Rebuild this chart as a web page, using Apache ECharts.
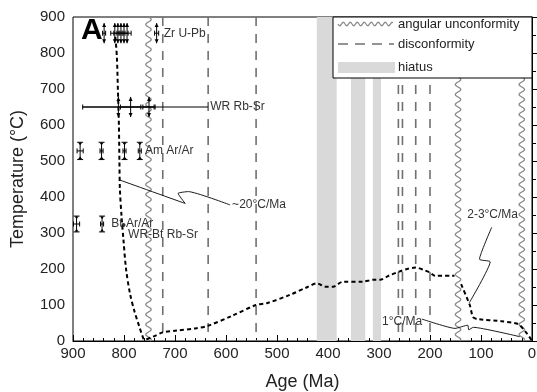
<!DOCTYPE html>
<html><head><meta charset="utf-8">
<script src="https://cdn.jsdelivr.net/npm/echarts@6/dist/echarts.min.js"></script>
<style>html,body{margin:0;padding:0;background:#fff}#c{width:537px;height:392px}</style>
</head><body><div id="c"></div>
<script>
const FONT = 'Liberation Sans, Arial, sans-serif';
// hiatus bands [older, younger] in Ma
const hiatusBands = [[422, 383], [355, 327], [312, 296]];
// disconformities (Ma)
const disconformities = [724, 635, 541, 262, 254, 228, 200];
// angular unconformities (Ma)
const angularUnconformities = [752, 145, 20];
// thermal history path [age Ma, T °C]
const historyA = [[817,845],[814,790],[812,700],[810,600],[809,500],[808,420],[805,350],[801,280],[796,200],[788,130],[779,80],[770,40],[764,15],[760,4],[743,12],[724,24],[697,29],[660,35],[636,42],[588,70],[541,100],[520,105],[475,128],[440,150],[422,160],[405,151],[390,151],[372,164],[331,165],[311,170],[298,170],[280,182],[262,192],[245,200],[228,204],[210,196],[200,190],[190,181],[152,181]];
const historyB = [[139,158],[122,100],[116,67],[108,61],[60,55],[27,47],[10,21],[0,0]];
// error-bar data [age, T, ageErr, TErr, arrowEnds(1)/caps(0)]
const zrUPb   = [[839,855,3,28,1],[818,855,8,28,1],[812,855,8,28,1],[806,855,8,28,1],[800,855,8,28,1],[794,855,8,28,1],[736,855,4,28,1]];
const wrRbSr  = [[811,650,70,28,1],[787,650,20,28,1],[751,650,12,28,1]];
const wrRbSrLine = [[881,650],[635,650]];
const amArAr  = [[886,528,6,24,0],[844,528,3,24,0],[799,528,3,24,0],[769,528,3,24,0]];
const btArAr  = [[893,325,6,22,0],[843,325,3,22,0]];
const wrBtRbSr = [[801,322]];
// rate annotation leader lines
const bolt20 = [[808,447],[680,382],[694,410],[674,415],[592,378]];
const bolt23 = [[79,316],[103,227],[82,220],[123,106]];
const bolt1  = [[216,61],[151,35],[126,44],[124,31],[115,38],[24,12]];
// text labels [age, T]
const labelPos = [[722,855],[631,650],[759,528],[825,325],[792,294],[588,378],[127,350],[294,55]];
const labelText = ['Zr U-Pb','WR Rb-Sr','Am Ar/Ar','Bt Ar/Ar','WR-Bt Rb-Sr','~20°C/Ma','2-3°C/Ma','1°C/Ma'];

const chart = echarts.init(document.getElementById('c'), null, {renderer:'canvas'});

function errRender(params, api){
  const age=api.value(0), T=api.value(1), xe=api.value(2), ye=api.value(3), kind=api.value(4);
  const c=api.coord([age,T]);
  const st={stroke:'#000',lineWidth:1};
  const ch=[];
  if(xe>0){
    const l=api.coord([age+xe,T]), r=api.coord([age-xe,T]);
    ch.push({type:'line',shape:{x1:l[0],y1:c[1],x2:r[0],y2:c[1]},style:st});
    ch.push({type:'line',shape:{x1:l[0],y1:c[1]-2.5,x2:l[0],y2:c[1]+2.5},style:st});
    ch.push({type:'line',shape:{x1:r[0],y1:c[1]-2.5,x2:r[0],y2:c[1]+2.5},style:st});
  }
  if(ye>0){
    const t=api.coord([age,T+ye]), b=api.coord([age,T-ye]);
    ch.push({type:'line',shape:{x1:c[0],y1:t[1],x2:c[0],y2:b[1]},style:st});
    if(kind===1){
      ch.push({type:'polygon',shape:{points:[[c[0],t[1]],[c[0]-2,t[1]+4],[c[0]+2,t[1]+4]]},style:{fill:'#000'}});
      ch.push({type:'polygon',shape:{points:[[c[0],b[1]],[c[0]-2,b[1]-4],[c[0]+2,b[1]-4]]},style:{fill:'#000'}});
    } else {
      ch.push({type:'line',shape:{x1:c[0]-3,y1:t[1],x2:c[0]+3,y2:t[1]},style:st});
      ch.push({type:'line',shape:{x1:c[0]-3,y1:b[1],x2:c[0]+3,y2:b[1]},style:st});
      ch.push({type:'polygon',shape:{points:[[c[0]-2,t[1]+0.5],[c[0]+2,t[1]+0.5],[c[0],t[1]+3]]},style:{fill:'#000'}});
      ch.push({type:'polygon',shape:{points:[[c[0]-2,b[1]-0.5],[c[0]+2,b[1]-0.5],[c[0],b[1]-3]]},style:{fill:'#000'}});
    }
  }
  return {type:'group',children:ch};
}
function errSeries(d){
  return {type:'custom',renderItem:errRender,data:d,encode:{x:0,y:1},z:6,silent:true,clip:false};
}
function bandRender(params, api){
  const a=api.coord([api.value(0),900]), b=api.coord([api.value(1),0]);
  return {type:'rect',shape:{x:a[0],y:a[1],width:b[0]-a[0],height:b[1]-a[1]},style:{fill:'#d9d9d9'}};
}
function dashRender(params, api){
  const a=api.coord([api.value(0),900]), b=api.coord([api.value(0),0]);
  return {type:'line',shape:{x1:a[0],y1:a[1],x2:b[0],y2:b[1]},style:{stroke:'#707070',lineWidth:1.6,lineDash:[9,8]}};
}
function wavePts(x, y0, y1, amp, period){
  const pts=[];
  for(let y=y0;y<=y1;y+=1) pts.push([x+amp*Math.sin((y-y0)/period*2*Math.PI), y]);
  return pts;
}
function waveRender(params, api){
  const a=api.coord([api.value(0),900]), b=api.coord([api.value(0),0]);
  return {type:'polyline',shape:{points:wavePts(a[0],a[1],b[1],2.8,10)},style:{stroke:'#8a8a8a',lineWidth:1.3,fill:null}};
}
function textRender(params, api){
  const c=api.coord([api.value(0),api.value(1)]);
  return {type:'text',x:c[0],y:c[1],style:{text:labelText[params.dataIndex],font:'12px '+FONT,fill:'#333',verticalAlign:'middle',align:'left'}};
}
function legendWave(){
  const pts=[];
  for(let x=338;x<=393;x+=1) pts.push([x, 24+1.8*Math.sin((x-338)/7*2*Math.PI)]);
  return pts;
}

chart.setOption({
  animation:false,
  grid:{left:73,right:5,top:17,bottom:51,show:true,borderColor:'#000',borderWidth:1,outerBoundsMode:'none',containLabel:false},
  xAxis:{type:'value',inverse:true,min:0,max:900,interval:100,
    name:'Age (Ma)',nameLocation:'middle',nameGap:32,nameTextStyle:{fontFamily:FONT,fontSize:18,color:'#222'},
    axisLine:{lineStyle:{color:'#000'}},
    axisTick:{inside:true,length:6,lineStyle:{color:'#000'}},
    minorTick:{show:true,splitNumber:5,length:3,lineStyle:{color:'#000'}},
    axisLabel:{fontFamily:FONT,fontSize:15,color:'#222',margin:5},
    splitLine:{show:false}},
  yAxis:{type:'value',min:0,max:900,interval:100,
    name:'Temperature (°C)',nameLocation:'middle',nameGap:46,nameTextStyle:{fontFamily:FONT,fontSize:18,color:'#222'},
    axisLine:{lineStyle:{color:'#000'}},
    axisTick:{inside:true,length:6,lineStyle:{color:'#000'}},
    minorTick:{show:true,splitNumber:2,length:4,lineStyle:{color:'#000'}},
    axisLabel:{fontFamily:FONT,fontSize:15,color:'#222',margin:8},
    splitLine:{show:false}},
  series:[
    {type:'custom',renderItem:bandRender,data:hiatusBands,encode:{x:[0,1]},z:1,silent:true},
    {type:'custom',renderItem:dashRender,data:disconformities.map(a=>[a,0]),encode:{x:0,y:1},z:2,silent:true},
    {type:'custom',renderItem:waveRender,data:angularUnconformities.map(a=>[a,0]),encode:{x:0,y:1},z:3,silent:true,clip:false},
    {type:'line',data:historyA,symbol:'none',smooth:0.3,lineStyle:{color:'#000',width:2,type:[4,3]},z:4,silent:true},
    {type:'line',data:historyB,symbol:'none',smooth:0.2,lineStyle:{color:'#000',width:2,type:[4,3]},z:4,silent:true},
    {type:'line',data:wrRbSrLine,symbol:'none',lineStyle:{color:'#000',width:1},z:5,silent:true},
    errSeries(zrUPb), errSeries(wrRbSr), errSeries(amArAr), errSeries(btArAr),
    {type:'scatter',data:wrBtRbSr,symbol:'circle',symbolSize:4,itemStyle:{color:'#000'},z:6,silent:true},
    {type:'line',data:bolt20,symbol:'none',smooth:0.15,lineStyle:{color:'#000',width:0.9},z:5,silent:true},
    {type:'line',data:bolt23,symbol:'none',smooth:0.15,lineStyle:{color:'#000',width:0.9},z:5,silent:true},
    {type:'line',data:bolt1,symbol:'none',smooth:0.15,lineStyle:{color:'#000',width:0.9},z:5,silent:true},
    {type:'custom',renderItem:textRender,data:labelPos,encode:{x:0,y:1},z:7,silent:true,clip:false}
  ],
  graphic:[
    {type:'rect',z:100,shape:{x:333,y:17,width:199,height:61},style:{fill:'#fff',stroke:'#000',lineWidth:1}},
    {type:'polyline',z:101,shape:{points:legendWave()},style:{stroke:'#8a8a8a',lineWidth:1.2,fill:null}},
    {type:'line',z:101,shape:{x1:338,y1:44,x2:394,y2:44},style:{stroke:'#707070',lineWidth:1.6,lineDash:[10,7]}},
    {type:'rect',z:101,shape:{x:338,y:62,width:57,height:11},style:{fill:'#d9d9d9'}},
    {type:'text',z:101,x:398,y:24,style:{text:'angular unconformity',font:'13px '+FONT,fill:'#222',verticalAlign:'middle'}},
    {type:'text',z:101,x:398,y:44,style:{text:'disconformity',font:'13px '+FONT,fill:'#222',verticalAlign:'middle'}},
    {type:'text',z:101,x:398,y:67,style:{text:'hiatus',font:'13px '+FONT,fill:'#222',verticalAlign:'middle'}},
    {type:'text',z:101,x:81,y:31,style:{text:'A',font:'bold 30px '+FONT,fill:'#000',verticalAlign:'middle'}}
  ]
});
</script></body></html>
